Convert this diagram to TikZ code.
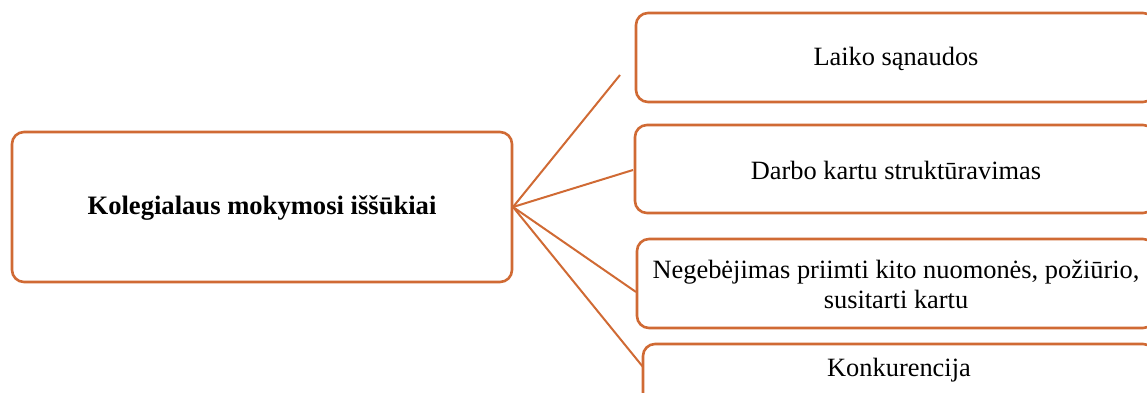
\documentclass[tikz,border=0pt]{standalone}
\usepackage{fontspec}
\setmainfont{Liberation Serif}
\definecolor{orng}{RGB}{208,106,52}
\begin{document}
\begin{tikzpicture}[x=1pt,y=1pt,
  box/.style={draw=orng, line width=2.6pt, rounded corners=12pt, fill=white, inner sep=0pt},
  conn/.style={draw=orng, line width=2pt},
  lbl/.style={font=\fontsize{26.4}{30}\selectfont, align=center, inner sep=0pt}]
\useasboundingbox (0,0) rectangle (1147,393);
\clip (0,0) rectangle (1147,393);
% main box
\node[box, minimum width=500pt, minimum height=150pt] (main) at (262,186) {};
\node[lbl, font=\fontsize{26.6}{30}\selectfont\bfseries] (maint) at (262,185) {Kolegialaus mokymosi iššūkiai};
% right boxes
\node[box, minimum width=519pt, minimum height=89pt] (b1) at (895.5,335.5) {};
\node[lbl] (t1) at (896,334) {Laiko sąnaudos};
\node[box, minimum width=520pt, minimum height=88pt] (b2) at (895,224) {};
\node[lbl] (t2) at (896,223) {Darbo kartu struktūravimas};
\node[box, minimum width=518pt, minimum height=89pt] (b3) at (896,109.5) {};
\node[lbl] (t3) at (896,109) {Negebėjimas priimti kito nuomonės, požiūrio,\\susitarti kartu};
\node[box, minimum width=512pt, minimum height=89pt] (b4) at (899,4.5) {};
\node[lbl] (t4) at (899,23) {Konkurencija};
% connectors
\coordinate (e1) at (620,318);
\coordinate (e2) at (633,223);
\coordinate (e3) at (636,101);
\coordinate (e4) at (643,26);
\coordinate (o) at (513,186);
\draw[conn] (o) -- (e1);
\draw[conn] (o) -- (e2);
\draw[conn] (o) -- (e3);
\draw[conn] (o) -- (e4);
\end{tikzpicture}
\end{document}
